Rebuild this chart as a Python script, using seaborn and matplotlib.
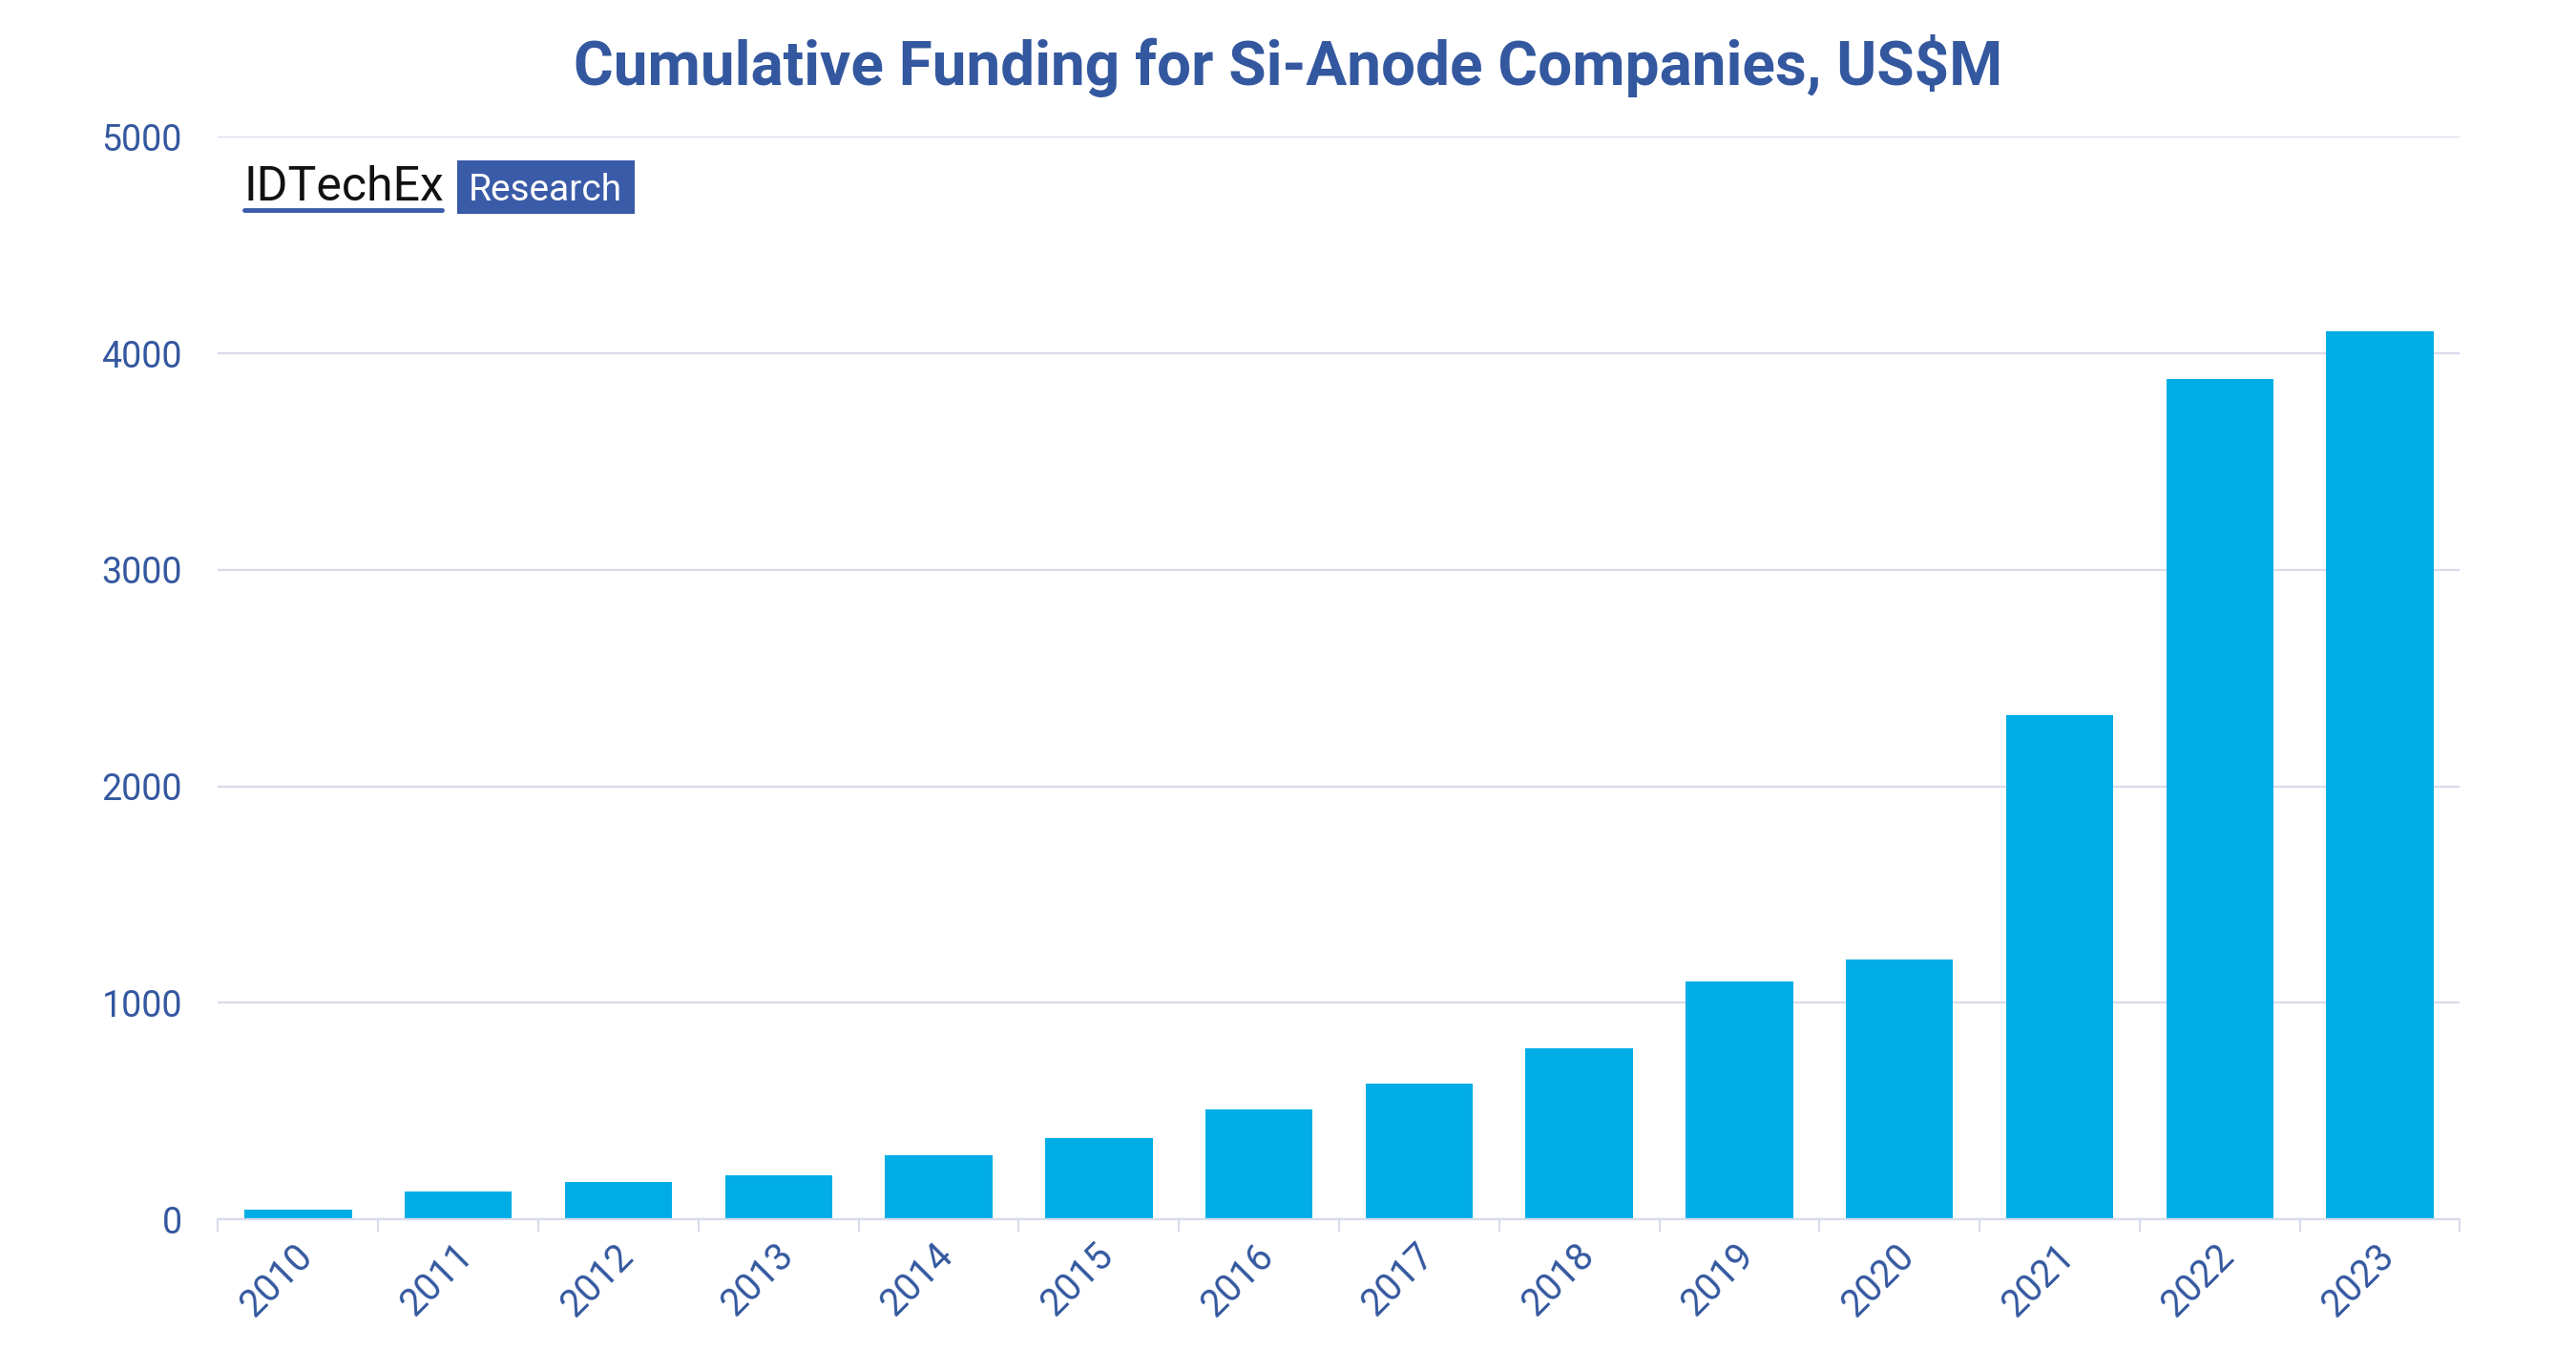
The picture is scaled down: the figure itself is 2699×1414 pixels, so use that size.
import matplotlib
matplotlib.use("Agg")
import numpy as np
import pandas as pd
import matplotlib.pyplot as plt
import matplotlib.transforms as mtransforms
import seaborn as sns
from matplotlib.patches import Rectangle
from matplotlib.lines import Line2D

years = ["2010", "2011", "2012", "2013", "2014", "2015", "2016",
         "2017", "2018", "2019", "2020", "2021", "2022", "2023"]
funding = [45, 128, 172, 205, 297, 377, 507, 627, 789, 1100, 1199, 2329, 3883, 4103]

BAR = "#00ADE6"
BLUE = "#34589F"
GRID = "#D8DAEC"
LOGO = "#3A5BA8"

df = pd.DataFrame({"year": years, "funding": funding})

sns.set_theme(style="white")
plt.rcParams["font.family"] = ["Roboto", "DejaVu Sans"]

W, H = 2699, 1414
fig = plt.figure(figsize=(W / 100, H / 100), dpi=100)
ax = fig.add_axes([0.08466, 0.0967, 0.8703, 0.802])

sns.barplot(data=df, x="year", y="funding", color=BAR, width=0.67,
            saturation=1, linewidth=0, ax=ax)

ax.set_xlim(-0.5, len(years) - 0.5)
ax.set_ylim(0, 5000)
ax.set_yticks(range(0, 5001, 1000))
ax.yaxis.grid(True, color=GRID, linewidth=1.6)
ax.set_axisbelow(True)
for s in ["top", "right", "left"]:
    ax.spines[s].set_visible(False)
ax.spines["bottom"].set_color(GRID)
ax.spines["bottom"].set_linewidth(1.6)

ax.set_xlabel("")
ax.set_ylabel("")
ax.tick_params(axis="y", length=0, pad=27, labelsize=27, labelcolor=BLUE)
ax.tick_params(axis="x", which="major", length=0, pad=23, labelsize=28.5, labelcolor=BLUE)
ax.set_xticks(np.arange(-0.5, len(years), 1), minor=True)
ax.tick_params(axis="x", which="minor", length=9.5, width=1.5, color=GRID, bottom=True)
shift = mtransforms.ScaledTranslation(9 / 100, 0, fig.dpi_scale_trans)
for lab in ax.get_xticklabels():
    lab.set_rotation(45)
    lab.set_ha("right")
    lab.set_va("center")
    lab.set_rotation_mode("anchor")
    lab.set_transform(lab.get_transform() + shift)

fig.text(0.5, 1 - 89.5 / H, "Cumulative Funding for Si-Anode Companies, US$M",
         ha="center", va="baseline", fontsize=46, fontweight="bold", color=BLUE)

# logo
fig.text(255 / W, 1 - 210 / H, "IDTechEx", ha="left", va="baseline",
         fontsize=36, color="#111111")
fig.lines.append(Line2D([256 / W, 463 / W], [1 - 220 / H] * 2,
                        transform=fig.transFigure, color=LOGO, linewidth=3.5))
fig.patches.append(Rectangle((478.5 / W, 1 - 224 / H), 186 / W, 56.3 / H,
                             transform=fig.transFigure, facecolor=LOGO,
                             edgecolor="none"))
fig.text(571.5 / W, 1 - 210 / H, "Research", ha="center", va="baseline",
         fontsize=28, color="white")

fig.savefig("out.png", dpi=100, facecolor="white")
